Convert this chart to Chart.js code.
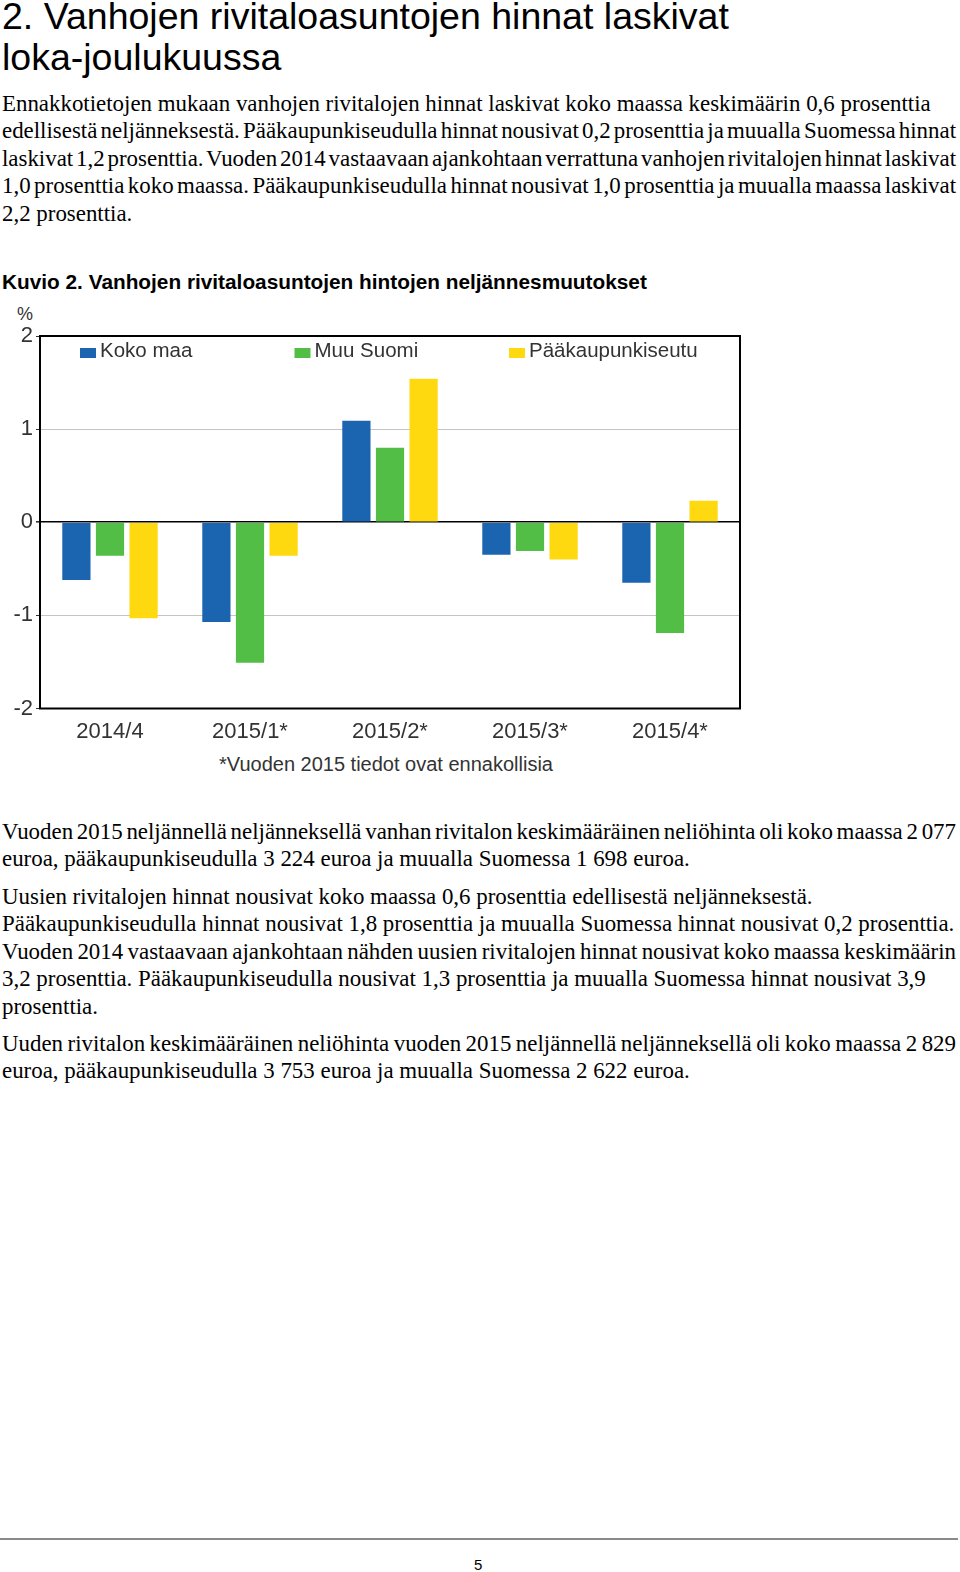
<!DOCTYPE html>
<html>
<head>
<meta charset="utf-8">
<script src="https://cdn.jsdelivr.net/npm/chart.js@4.4.1/dist/chart.umd.min.js"></script>
<style>
  html, body { margin:0; padding:0; background:#fff; }
  body { width:960px; height:1572px; position:relative; overflow:hidden; }
  .abs { position:absolute; white-space:nowrap; }
  .title { left:2px; top:-4px; font-family:"Liberation Sans", Arial, sans-serif; font-size:37.5px; line-height:41px; color:#000; }
  .serif { left:2px; font-family:"Liberation Serif", "Times New Roman", serif; font-size:22.9px; line-height:27.4px; color:#000; }
  .serif span { display:block; white-space:nowrap; }
  .kuvio { left:2px; top:269px; font-family:"Liberation Sans", Arial, sans-serif; font-weight:bold; font-size:20.8px; line-height:26px; color:#000; }
  .chartbox { left:0; top:300px; width:760px; height:440px; }
  .pct { left:17px; top:304px; font-family:"Liberation Sans", Arial, sans-serif; font-size:18px; color:#333; }
  .foot { left:0; width:772px; top:753px; text-align:center; font-family:"Liberation Sans", Arial, sans-serif; font-size:20px; color:#333; }
  .rule { left:0; top:1538px; width:958px; height:0; border-top:2px solid #8a8a8a; }
  .page { left:474px; top:1556px; font-family:"Liberation Sans", Arial, sans-serif; font-size:15px; color:#000; }
</style>
</head>
<body>
<div class="abs title">2. Vanhojen rivitaloasuntojen hinnat laskivat<br>loka-joulukuussa</div>
<div class="abs serif" style="top:90px"><span>Ennakkotietojen mukaan vanhojen rivitalojen hinnat laskivat koko maassa keskimäärin 0,6 prosenttia</span><span>edellisestä neljänneksestä. Pääkaupunkiseudulla hinnat nousivat 0,2 prosenttia ja muualla Suomessa hinnat</span><span>laskivat 1,2 prosenttia. Vuoden 2014 vastaavaan ajankohtaan verrattuna vanhojen rivitalojen hinnat laskivat</span><span>1,0 prosenttia koko maassa. Pääkaupunkiseudulla hinnat nousivat 1,0 prosenttia ja muualla maassa laskivat</span><span>2,2 prosenttia.</span></div>
<div class="abs kuvio">Kuvio 2. Vanhojen rivitaloasuntojen hintojen neljännesmuutokset</div>
<div class="abs pct">%</div>
<div class="abs chartbox"><canvas id="c"></canvas></div>
<div class="abs foot">*Vuoden 2015 tiedot ovat ennakollisia</div>
<div class="abs serif" style="top:818px"><span>Vuoden 2015 neljännellä neljänneksellä vanhan rivitalon keskimääräinen neliöhinta oli koko maassa 2 077</span><span>euroa, pääkaupunkiseudulla 3 224 euroa ja muualla Suomessa 1 698 euroa.</span></div>
<div class="abs serif" style="top:883px"><span>Uusien rivitalojen hinnat nousivat koko maassa 0,6 prosenttia edellisestä neljänneksestä.</span><span>Pääkaupunkiseudulla hinnat nousivat 1,8 prosenttia ja muualla Suomessa hinnat nousivat 0,2 prosenttia.</span><span>Vuoden 2014 vastaavaan ajankohtaan nähden uusien rivitalojen hinnat nousivat koko maassa keskimäärin</span><span>3,2 prosenttia. Pääkaupunkiseudulla nousivat 1,3 prosenttia ja muualla Suomessa hinnat nousivat 3,9</span><span>prosenttia.</span></div>
<div class="abs serif" style="top:1030px"><span>Uuden rivitalon keskimääräinen neliöhinta vuoden 2015 neljännellä neljänneksellä oli koko maassa 2 829</span><span>euroa, pääkaupunkiseudulla 3 753 euroa ja muualla Suomessa 2 622 euroa.</span></div>
<div class="abs rule"></div>
<div class="abs page">5</div>

<script>
// Fit over-long text lines into the page width by tightening word spacing
document.querySelectorAll('.serif span').forEach(sp => {
  sp.style.display = 'inline-block';
  const maxW = 954;
  const w = sp.getBoundingClientRect().width;
  if (w > maxW) {
    const gaps = (sp.textContent.match(/ /g) || []).length;
    if (gaps) sp.style.wordSpacing = ((maxW - w) / gaps) + 'px';
  }
  sp.style.display = 'block';
});
</script>
<script>
const categories = ["2014/4", "2015/1*", "2015/2*", "2015/3*", "2015/4*"];
const seriesNames = ["Koko maa", "Muu Suomi", "Pääkaupunkiseutu"];
const kokoMaa = [-0.62, -1.07, 1.09, -0.35, -0.65];
const muuSuomi = [-0.36, -1.51, 0.80, -0.31, -1.19];
const paakaupunkiseutu = [-1.03, -0.36, 1.54, -0.40, 0.23];
const yTicks = [-2, -1, 0, 1, 2];
const colors = ["#1a64b0", "#52be46", "#fed90f"];

const chartFont = "'Liberation Sans', Arial, sans-serif";

const framePlugin = {
  id: 'frame',
  afterDraw(chart) {
    const {ctx, chartArea: a} = chart;
    ctx.save();
    ctx.strokeStyle = '#000';
    ctx.lineWidth = 2;
    ctx.strokeRect(a.left, a.top, a.right - a.left, a.bottom - a.top);
    ctx.restore();
  }
};

const legendPlugin = {
  id: 'innerLegend',
  afterDraw(chart) {
    const {ctx, chartArea: a} = chart;
    ctx.save();
    ctx.font = "20.5px " + chartFont;
    ctx.textBaseline = 'alphabetic';
    ctx.textAlign = 'left';
    chart.data.datasets.forEach((ds, i) => {
      const x = a.left + 40 + i * 214.5;
      ctx.fillStyle = ds.backgroundColor;
      ctx.fillRect(x, a.top + 12, 16, 10);
      ctx.fillStyle = '#333';
      ctx.fillText(ds.label, x + 20, a.top + 20.5);
    });
    ctx.restore();
  }
};

new Chart(document.getElementById('c'), {
  type: 'bar',
  data: {
    labels: categories,
    datasets: [
      { label: seriesNames[0], data: kokoMaa, backgroundColor: colors[0] },
      { label: seriesNames[1], data: muuSuomi, backgroundColor: colors[1] },
      { label: seriesNames[2], data: paakaupunkiseutu, backgroundColor: colors[2] }
    ]
  },
  options: {
    responsive: true,
    maintainAspectRatio: false,
    animation: false,
    datasets: { bar: { categoryPercentage: 0.72, barPercentage: 0.84 } },
    layout: { padding: { top: 36, right: 20, left: 0, bottom: 0 } },
    plugins: { legend: { display: false }, tooltip: { enabled: false } },
    scales: {
      x: {
        grid: { display: false },
        border: { display: false },
        ticks: { color: '#333', font: { family: chartFont, size: 22 }, padding: 2, maxRotation: 0 },
        afterFit(scale) { scale.height = 31.5; }
      },
      y: {
        min: -2, max: 2,
        afterBuildTicks(scale) { scale.ticks = yTicks.map(v => ({ value: v })); },
        grid: {
          color: ctx => (ctx.tick && ctx.tick.value === 0) ? '#000' : ((ctx.tick && Math.abs(ctx.tick.value) === 2) ? 'rgba(0,0,0,0)' : '#c4c4c4'),
          lineWidth: ctx => (ctx.tick && ctx.tick.value === 0) ? 1.6 : 1,
          tickColor: '#333',
          tickLength: 4
        },
        border: { display: false },
        ticks: { color: '#333', font: { family: chartFont, size: 22 }, padding: 3 },
        afterFit(scale) { scale.width = 40; }
      }
    }
  },
  plugins: [framePlugin, legendPlugin]
});
</script>
</body>
</html>
